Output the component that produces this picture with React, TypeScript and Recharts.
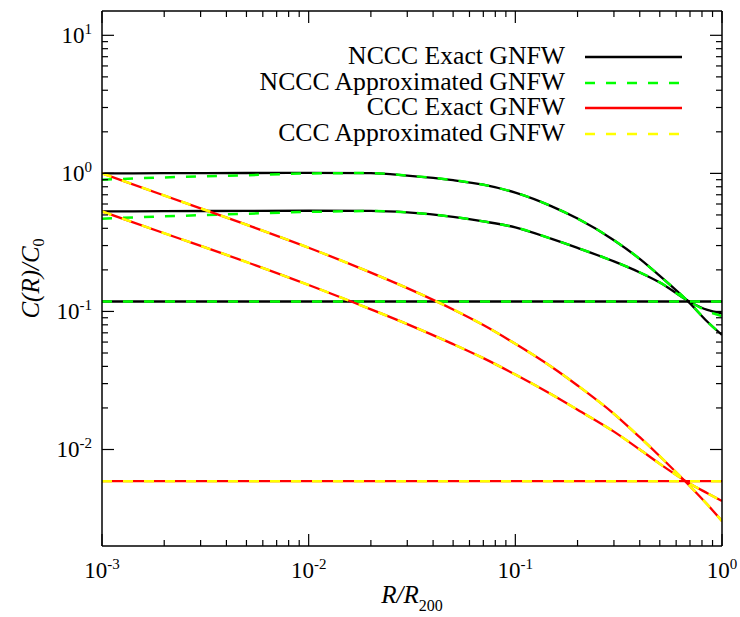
import { Legend, Line, LineChart, XAxis, YAxis } from "recharts";

// radius in units of R200
const radii = [0.001, 0.002, 0.005, 0.01, 0.02, 0.03, 0.05, 0.07, 0.1, 0.15, 0.2, 0.3, 0.4, 0.5, 0.7, 0.85, 1.0];

// NCCC profiles
const ncccHighExact = [1.0, 1.003, 1.006, 1.01, 1.005, 0.964, 0.893, 0.828, 0.725, 0.577, 0.4705, 0.328, 0.24, 0.1808, 0.1144, 0.0842, 0.0676];
const ncccHighApprox = [0.9, 0.935, 0.97, 0.998, 1.005, 0.964, 0.893, 0.828, 0.725, 0.577, 0.4705, 0.328, 0.24, 0.1808, 0.1144, 0.0842, 0.0676];
const ncccMidExact = [0.53, 0.532, 0.535, 0.536, 0.535, 0.522, 0.484, 0.449, 0.406, 0.335, 0.2885, 0.2303, 0.1917, 0.1622, 0.1172, 0.1025, 0.0967];
const ncccMidApprox = [0.47, 0.488, 0.51, 0.526, 0.533, 0.522, 0.484, 0.449, 0.406, 0.335, 0.2885, 0.2303, 0.1917, 0.1622, 0.1172, 0.1005, 0.0925];
const ncccFlatExact = [0.118, 0.118, 0.118, 0.118, 0.118, 0.118, 0.118, 0.118, 0.118, 0.118, 0.118, 0.118, 0.118, 0.118, 0.118, 0.118, 0.118];
const ncccFlatApprox = [0.118, 0.118, 0.118, 0.118, 0.118, 0.118, 0.118, 0.118, 0.118, 0.118, 0.118, 0.118, 0.118, 0.118, 0.118, 0.118, 0.118];

// CCC profiles
const cccHighExact = [1.0, 0.6917, 0.4248, 0.2894, 0.1911, 0.1475, 0.1034, 0.0797, 0.0583, 0.0396, 0.0291, 0.01815, 0.01228, 0.00894, 0.00542, 0.00399, 0.00303];
const cccHighApprox = [1.0, 0.6917, 0.4248, 0.2894, 0.1911, 0.1475, 0.1034, 0.0797, 0.0583, 0.0396, 0.0291, 0.01815, 0.01228, 0.00894, 0.00542, 0.00399, 0.00303];
const cccMidExact = [0.53, 0.3686, 0.228, 0.1553, 0.1035, 0.0809, 0.058, 0.0459, 0.0349, 0.025, 0.0194, 0.01348, 0.01, 0.00787, 0.00565, 0.00482, 0.00423];
const cccMidApprox = [0.53, 0.3686, 0.228, 0.1553, 0.1035, 0.0809, 0.058, 0.0459, 0.0349, 0.025, 0.0194, 0.01348, 0.01, 0.00787, 0.00565, 0.00482, 0.00423];
const cccFlatExact = [0.0059, 0.0059, 0.0059, 0.0059, 0.0059, 0.0059, 0.0059, 0.0059, 0.0059, 0.0059, 0.0059, 0.0059, 0.0059, 0.0059, 0.0059, 0.0059, 0.0059];
const cccFlatApprox = [0.0059, 0.0059, 0.0059, 0.0059, 0.0059, 0.0059, 0.0059, 0.0059, 0.0059, 0.0059, 0.0059, 0.0059, 0.0059, 0.0059, 0.0059, 0.0059, 0.0059];

const legendLabels = ["NCCC Exact GNFW", "NCCC Approximated GNFW", "CCC Exact GNFW", "CCC Approximated GNFW"];

// tick values
const xMajors = [0.001, 0.01, 0.1, 1];
const yMajors = [0.01, 0.1, 1, 10];
const minorSteps = [2, 3, 4, 5, 6, 7, 8, 9];

const X_DOMAIN: [number, number] = [0.001, 1];
const Y_DOMAIN: [number, number] = [0.002, 15];

const buildTicks = (majors: number[], d: [number, number]) => {
  const out: number[] = [];
  majors.forEach((m) => {
    out.push(m);
    minorSteps.forEach((s) => out.push(+(m * s).toPrecision(6)));
  });
  // keep ticks inside the domain; a minor tick sitting on the lower edge is dropped
  return out
    .filter((v) => v <= d[1] * 1.0001 && (v > d[0] * 1.0001 || (v >= d[0] * 0.9999 && majors.includes(v))))
    .sort((a, b) => a - b);
};
const xTicks = buildTicks(xMajors, X_DOMAIN);
const yTicks = buildTicks(yMajors, Y_DOMAIN);

const isMajor = (v: number) => Math.abs(Math.log10(v) - Math.round(Math.log10(v))) < 1e-6;
const expOf = (v: number) => String(Math.round(Math.log10(v)));

const FONT = '"Liberation Serif", "Times New Roman", serif';
const BLACK = "#000000";
const GREEN = "#00ff00";
const RED = "#ff0000";
const YELLOW = "#ffff00";
const GREEN_DASH = "10 11";
const YELLOW_DASH = "10 11";

const MAJOR_LEN = 12;
const MINOR_LEN = 6;

const data = radii.map((r, i) => ({
  r,
  ncccHighExact: ncccHighExact[i],
  ncccMidExact: ncccMidExact[i],
  ncccFlatExact: ncccFlatExact[i],
  ncccHighApprox: ncccHighApprox[i],
  ncccMidApprox: ncccMidApprox[i],
  ncccFlatApprox: ncccFlatApprox[i],
  cccHighExact: cccHighExact[i],
  cccMidExact: cccMidExact[i],
  cccFlatExact: cccFlatExact[i],
  cccHighApprox: cccHighApprox[i],
  cccMidApprox: cccMidApprox[i],
  cccFlatApprox: cccFlatApprox[i],
}));

const lines = [
  { key: "ncccHighExact", stroke: BLACK, dash: undefined, width: 2.3 },
  { key: "ncccMidExact", stroke: BLACK, dash: undefined, width: 2.3 },
  { key: "ncccFlatExact", stroke: BLACK, dash: undefined, width: 2.3 },
  { key: "ncccHighApprox", stroke: GREEN, dash: GREEN_DASH, width: 2.5 },
  { key: "ncccMidApprox", stroke: GREEN, dash: GREEN_DASH, width: 2.5 },
  { key: "ncccFlatApprox", stroke: GREEN, dash: GREEN_DASH, width: 2.5 },
  { key: "cccHighExact", stroke: RED, dash: undefined, width: 2.3 },
  { key: "cccMidExact", stroke: RED, dash: undefined, width: 2.3 },
  { key: "cccFlatExact", stroke: RED, dash: undefined, width: 2.3 },
  { key: "cccHighApprox", stroke: YELLOW, dash: YELLOW_DASH, width: 2.5 },
  { key: "cccMidApprox", stroke: YELLOW, dash: YELLOW_DASH, width: 2.5 },
  { key: "cccFlatApprox", stroke: YELLOW, dash: YELLOW_DASH, width: 2.5 },
];

const legendStyles = [
  { stroke: BLACK, dash: undefined },
  { stroke: GREEN, dash: GREEN_DASH },
  { stroke: RED, dash: undefined },
  { stroke: YELLOW, dash: YELLOW_DASH },
];

function PowerLabel({ x, y, value, anchor }: { x: number; y: number; value: number; anchor: "middle" | "end" }) {
  return (
    <text x={x} y={y} textAnchor={anchor} style={{ fontFamily: FONT, fontSize: 23 }} fill="#000">
      10
      <tspan dy={-9} style={{ fontSize: 15 }}>
        {expOf(value)}
      </tspan>
    </text>
  );
}

function BottomTick({ x, y, payload }: any) {
  const major = isMajor(payload.value);
  return (
    <g>
      <line x1={x} y1={y} x2={x} y2={y - (major ? MAJOR_LEN : MINOR_LEN)} stroke="#000" strokeWidth={1.2} />
      {major && <PowerLabel x={x} y={y + 32} value={payload.value} anchor="middle" />}
    </g>
  );
}

function TopTick({ x, y, payload }: any) {
  const major = isMajor(payload.value);
  return <line x1={x} y1={y} x2={x} y2={y + (major ? MAJOR_LEN : MINOR_LEN)} stroke="#000" strokeWidth={1.2} />;
}

function LeftTick({ x, y, payload }: any) {
  const major = isMajor(payload.value);
  return (
    <g>
      <line x1={x} y1={y} x2={x + (major ? MAJOR_LEN : MINOR_LEN)} y2={y} stroke="#000" strokeWidth={1.2} />
      {major && <PowerLabel x={x - 10} y={y + 8} value={payload.value} anchor="end" />}
    </g>
  );
}

function RightTick({ x, y, payload }: any) {
  const major = isMajor(payload.value);
  return <line x1={x} y1={y} x2={x - (major ? MAJOR_LEN : MINOR_LEN)} y2={y} stroke="#000" strokeWidth={1.2} />;
}

function XTitle({ viewBox }: any) {
  const cx = viewBox.x + viewBox.width / 2;
  const by = viewBox.y + 57;
  return (
    <text x={cx} y={by} textAnchor="middle" style={{ fontFamily: FONT, fontSize: 25 }} fill="#000">
      <tspan style={{ fontStyle: "italic" }}>R/R</tspan>
      <tspan style={{ fontSize: 16 }} dy={8}>
        200
      </tspan>
    </text>
  );
}

function YTitle({ viewBox }: any) {
  const bx = viewBox.x + 38.5;
  const cy = viewBox.y + viewBox.height / 2;
  return (
    <text
      x={bx}
      y={cy}
      transform={`rotate(-90, ${bx}, ${cy})`}
      textAnchor="middle"
      style={{ fontFamily: FONT, fontSize: 25 }}
      fill="#000"
    >
      <tspan style={{ fontStyle: "italic" }}>C(R)/C</tspan>
      <tspan style={{ fontSize: 16 }} dy={5}>
        0
      </tspan>
    </text>
  );
}

function LegendBox() {
  return (
    <div style={{ fontFamily: FONT, fontSize: 25.7, color: "#000" }}>
      {legendLabels.map((label, i) => (
        <div key={label} style={{ display: "flex", alignItems: "center", height: 25.7, overflow: "visible" }}>
          <span
            style={{
              display: "inline-block",
              width: 365,
              height: 25.7,
              lineHeight: "25.7px",
              textAlign: "right",
              whiteSpace: "nowrap",
            }}
          >
            {label}
          </span>
          <svg width={100} height={26} style={{ marginLeft: 20 }}>
            <line
              x1={0}
              y1={14}
              x2={97}
              y2={14}
              stroke={legendStyles[i].stroke}
              strokeWidth={2.5}
              strokeDasharray={legendStyles[i].dash}
            />
          </svg>
        </div>
      ))}
    </div>
  );
}

export default function App() {
  return (
    <div style={{ width: 740, height: 617, background: "#fff" }}>
      <style>{`body{margin:0;background:#fff}`}</style>
      <LineChart width={740} height={617} data={data} margin={{ top: 10, right: 8, bottom: 0, left: 0 }}>
        <XAxis
          dataKey="r"
          type="number"
          scale="log"
          domain={X_DOMAIN}
          allowDataOverflow
          ticks={xTicks}
          interval={0}
          tickSize={0}
          tickMargin={0}
          tickLine={false}
          tick={<BottomTick />}
          height={71}
          axisLine={{ stroke: "#000", strokeWidth: 1.5 }}
          label={<XTitle />}
        />
        <XAxis
          xAxisId="top"
          dataKey="r"
          orientation="top"
          type="number"
          scale="log"
          domain={X_DOMAIN}
          allowDataOverflow
          ticks={xTicks}
          interval={0}
          tickSize={0}
          tickMargin={0}
          tickLine={false}
          tick={<TopTick />}
          height={1}
          axisLine={{ stroke: "#000", strokeWidth: 1.5 }}
        />
        <YAxis
          type="number"
          scale="log"
          domain={Y_DOMAIN}
          allowDataOverflow
          ticks={yTicks}
          interval={0}
          tickSize={0}
          tickMargin={0}
          tickLine={false}
          tick={<LeftTick />}
          width={102}
          axisLine={{ stroke: "#000", strokeWidth: 1.5 }}
          label={<YTitle />}
        />
        <YAxis
          yAxisId="right"
          orientation="right"
          type="number"
          scale="log"
          domain={Y_DOMAIN}
          allowDataOverflow
          ticks={yTicks}
          interval={0}
          tickSize={0}
          tickMargin={0}
          tickLine={false}
          tick={<RightTick />}
          width={10}
          axisLine={{ stroke: "#000", strokeWidth: 1.5 }}
        />
        <Legend
          layout="vertical"
          align="center"
          verticalAlign="middle"
          content={() => <LegendBox />}
          wrapperStyle={{ top: 43, left: 200, width: 500 }}
        />
        {lines.map((l) => (
          <Line
            key={l.key}
            dataKey={l.key}
            type="monotone"
            stroke={l.stroke}
            strokeWidth={l.width}
            strokeDasharray={l.dash}
            dot={false}
            activeDot={false}
            isAnimationActive={false}
          />
        ))}
      </LineChart>
    </div>
  );
}
